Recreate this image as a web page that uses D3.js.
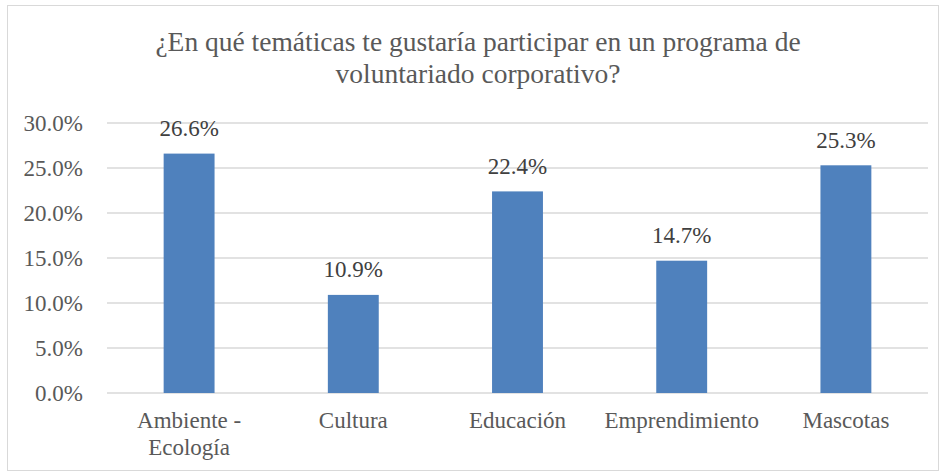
<!DOCTYPE html>
<html>
<head>
<meta charset="utf-8">
<script src="https://cdn.jsdelivr.net/npm/d3@7"></script>
<style>
  body { margin: 0; background: #fff; }
</style>
</head>
<body>
<script>
// chart data
var categories = [["Ambiente -", "Ecología"], ["Cultura"], ["Educación"], ["Emprendimiento"], ["Mascotas"]];
var values = [26.6, 10.9, 22.4, 14.7, 25.3];
var yTicks = [0, 5, 10, 15, 20, 25, 30];
var titleLines = ["¿En qué temáticas te gustaría participar en un programa de", "voluntariado corporativo?"];

var width = 946, height = 475;
var margin = {top: 123, right: 18, bottom: 82, left: 107};
var font = "Liberation Serif";
var labelSize = 23;

var svg = d3.select("body").append("svg")
    .attr("width", width)
    .attr("height", height)
    .attr("font-family", font);

// outer frame
svg.append("rect")
    .attr("x", 7.5).attr("y", 5.5)
    .attr("width", 931).attr("height", 465)
    .attr("fill", "#fff")
    .attr("stroke", "#d9d9d9")
    .attr("stroke-width", 1);

// title
svg.append("g").selectAll("text")
    .data(titleLines)
    .enter().append("text")
    .attr("x", 478)
    .attr("y", function(d, i){ return 51 + i * 32; })
    .attr("text-anchor", "middle")
    .attr("font-family", font)
    .attr("font-size", 27.5)
    .attr("fill", "#595959")
    .text(function(d){ return d; });

var x = d3.scaleBand()
    .domain(d3.range(categories.length))
    .range([margin.left, width - margin.right])
    .paddingInner(0.69)
    .paddingOuter(0.345);

var y = d3.scaleLinear()
    .domain([0, 30])
    .range([height - margin.bottom, margin.top]);

// gridlines
svg.append("g")
    .selectAll("line")
    .data(yTicks)
    .enter().append("line")
    .attr("x1", margin.left)
    .attr("x2", width - margin.right)
    .attr("y1", function(d){ return y(d); })
    .attr("y2", function(d){ return y(d); })
    .attr("stroke", "#d9d9d9")
    .attr("stroke-width", 1.3);

// y axis labels
var yAxis = d3.axisLeft(y)
    .tickValues(yTicks)
    .tickSize(0)
    .tickPadding(24)
    .tickFormat(function(d){ return d.toFixed(1) + "%"; });

svg.append("g")
    .attr("transform", "translate(" + margin.left + ",0)")
    .call(yAxis)
    .attr("font-family", font)
    .attr("font-size", labelSize)
    .call(function(g){ g.select(".domain").remove(); })
    .selectAll("text")
    .attr("font-family", font)
    .attr("fill", "#595959");

// bars
svg.append("g").selectAll("rect")
    .data(values)
    .enter().append("rect")
    .attr("x", function(d, i){ return x(i); })
    .attr("y", function(d){ return y(d); })
    .attr("width", x.bandwidth())
    .attr("height", function(d){ return y(0) - y(d); })
    .attr("fill", "#4f81bd");

// value labels
svg.append("g").selectAll("text")
    .data(values)
    .enter().append("text")
    .attr("x", function(d, i){ return x(i) + x.bandwidth() / 2; })
    .attr("y", function(d){ return y(d) - 17.5; })
    .attr("text-anchor", "middle")
    .attr("font-family", font)
    .attr("font-size", labelSize)
    .attr("fill", "#404040")
    .text(function(d){ return d.toFixed(1) + "%"; });

// category labels
var cat = svg.append("g").selectAll("text")
    .data(categories)
    .enter().append("text")
    .attr("text-anchor", "middle")
    .attr("font-family", font)
    .attr("font-size", labelSize)
    .attr("fill", "#595959")
    .attr("transform", function(d, i){
        return "translate(" + (x(i) + x.bandwidth() / 2) + ",428)";
    });

cat.selectAll("tspan")
    .data(function(d){ return d; })
    .enter().append("tspan")
    .attr("x", 0)
    .attr("y", function(d, i){ return i * 27; })
    .text(function(d){ return d; });
</script>
</body>
</html>
